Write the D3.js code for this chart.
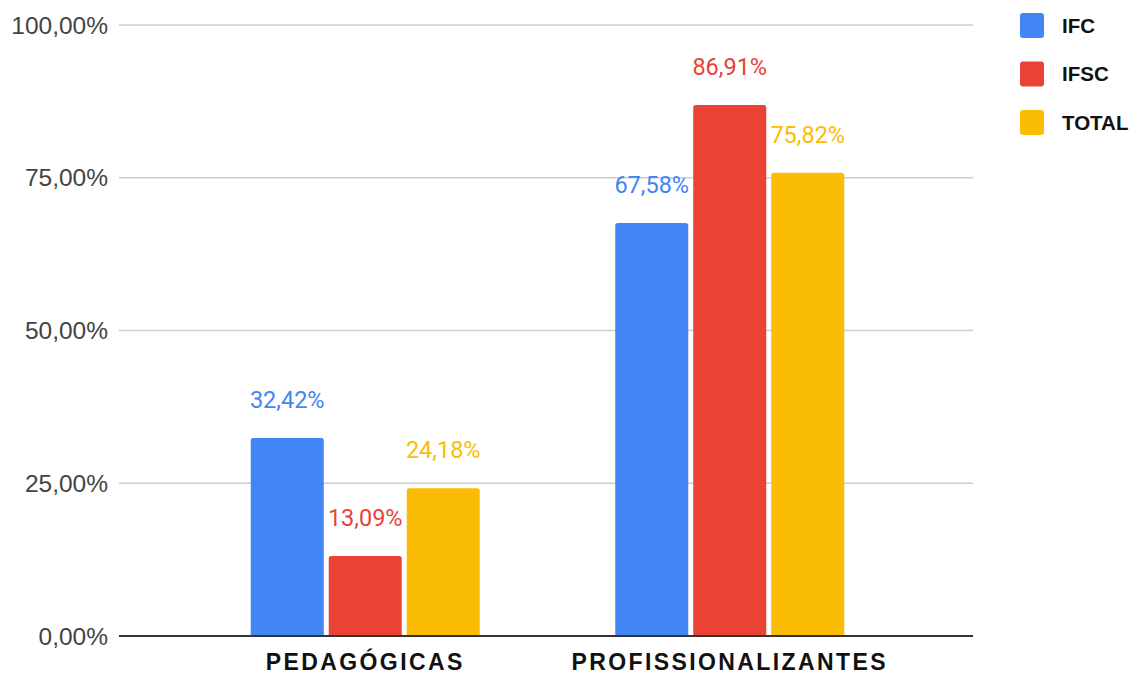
<!DOCTYPE html>
<html>
<head>
<meta charset="utf-8">
<script src="https://cdn.jsdelivr.net/npm/d3@7"></script>
<style>
  html, body { margin: 0; padding: 0; background: #fff; }
  svg { display: block; }
</style>
</head>
<body>
<svg id="chart" width="1137" height="675"></svg>
<script>
const categories = ["PEDAGÓGICAS", "PROFISSIONALIZANTES"];
const seriesNames = ["IFC", "IFSC", "TOTAL"];
const seriesColors = ["#4285F4", "#EA4335", "#FBBC04"];
const ifcValues = [32.42, 67.58];
const ifscValues = [13.09, 86.91];
const totalValues = [24.18, 75.82];
const yTicks = [0, 25, 50, 75, 100];

const seriesValues = [ifcValues, ifscValues, totalValues];
const fmt = v => v.toFixed(2).replace(".", ",") + "%";

const svg = d3.select("#chart");
const plot = { left: 119, right: 973, top: 25, bottom: 636 };

const y = d3.scaleLinear().domain([0, 100]).range([plot.bottom, plot.top]);
const x0 = d3.scaleBand().domain(categories).range([183, 912]).padding(0);
const x1 = d3.scaleBand().domain(seriesNames).range([0, 229]).paddingInner(0.064);
const groupOffset = (x0.bandwidth() - 229) / 2;

// gridlines
svg.append("g").selectAll("line").data(yTicks.filter(t => t > 0)).join("line")
  .attr("x1", plot.left).attr("x2", plot.right)
  .attr("y1", d => y(d)).attr("y2", d => y(d))
  .attr("stroke", "#cccccc").attr("stroke-width", 1.5);

// y tick labels
svg.append("g").selectAll("text").data(yTicks).join("text")
  .attr("x", 108).attr("y", d => y(d))
  .attr("dy", "0.35em")
  .attr("text-anchor", "end")
  .attr("font-family", "Arial, 'Liberation Sans', sans-serif")
  .attr("font-size", 24.5)
  .attr("fill", "#444")
  .text(d => fmt(d));

// bars
const rows = [];
categories.forEach((c, ci) => {
  seriesNames.forEach((s, si) => {
    rows.push({ cat: c, series: s, value: seriesValues[si][ci], color: seriesColors[si] });
  });
});

const bx = d => x0(d.cat) + groupOffset + x1(d.series);

svg.append("g").selectAll("path").data(rows).join("path")
  .attr("fill", d => d.color)
  .attr("d", d => {
    const x = bx(d), w = x1.bandwidth(), top = y(d.value), bot = y(0), r = 2.5;
    return `M${x},${bot}V${top + r}Q${x},${top} ${x + r},${top}H${x + w - r}Q${x + w},${top} ${x + w},${top + r}V${bot}Z`;
  });

// value labels
svg.append("g").selectAll("text").data(rows).join("text")
  .attr("x", d => bx(d) + x1.bandwidth() / 2)
  .attr("y", d => y(d.value) - 30)
  .attr("text-anchor", "middle")
  .attr("font-family", "Roboto, sans-serif")
  .attr("font-size", 23.5)
  .attr("fill", d => d.color)
  .text(d => fmt(d.value));

// baseline
svg.append("line")
  .attr("x1", plot.left).attr("x2", plot.right)
  .attr("y1", y(0)).attr("y2", y(0))
  .attr("stroke", "#333").attr("stroke-width", 2);

// x labels
svg.append("g").selectAll("text").data(categories).join("text")
  .attr("x", d => x0(d) + x0.bandwidth() / 2)
  .attr("y", 669.5)
  .attr("text-anchor", "middle")
  .attr("font-family", "Arial, 'Liberation Sans', sans-serif")
  .attr("font-weight", "bold")
  .attr("font-size", 23)
  .attr("letter-spacing", 2.4)
  .attr("fill", "#111")
  .text(d => d);

// legend
const lg = svg.append("g").selectAll("g").data(seriesNames).join("g")
  .attr("transform", (d, i) => `translate(1020, ${13 + i * 48.5})`);
lg.append("rect").attr("width", 24).attr("height", 25).attr("rx", 3)
  .attr("fill", (d, i) => seriesColors[i]);
lg.append("text").attr("x", 42).attr("y", 12.5).attr("dy", "0.36em")
  .attr("font-family", "Arial, 'Liberation Sans', sans-serif")
  .attr("font-weight", "bold").attr("font-size", 20.5)
  .attr("fill", "#111")
  .text(d => d);
</script>
</body>
</html>
